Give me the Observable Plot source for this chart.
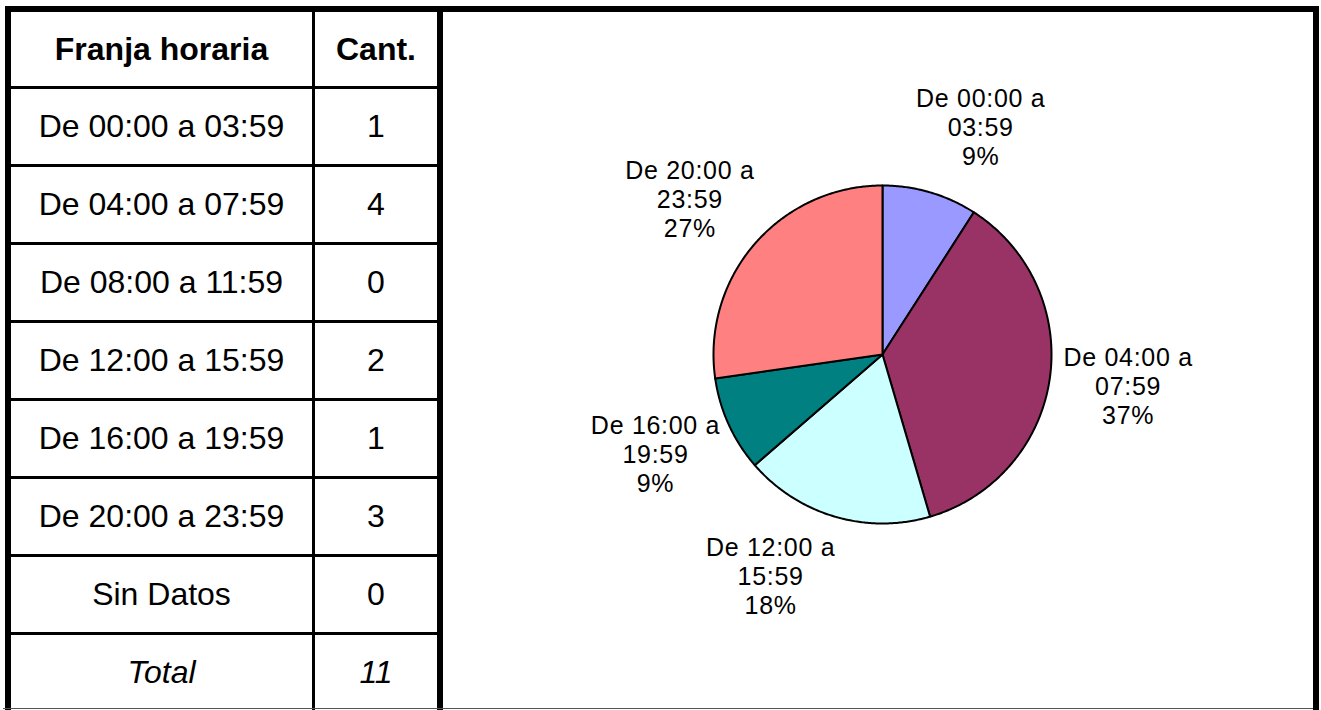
<!DOCTYPE html>
<html>
<head>
<meta charset="utf-8">
<script src="https://cdn.jsdelivr.net/npm/d3@7"></script>
<script src="https://cdn.jsdelivr.net/npm/@observablehq/plot@0.6"></script>
<style>
  html, body { margin: 0; padding: 0; background: #fff; }
  #page { position: relative; width: 1321px; height: 710px; overflow: hidden;
          font-family: "Liberation Sans", Arial, sans-serif; color: #000; }
  #table { position: absolute; left: 5px; top: 6px; padding: 6px 6px 0 6px; background: #000;
           display: grid; grid-template-columns: 301px 122px;
           grid-template-rows: 74px repeat(8, 75px); gap: 3px; }
  .cell { background: #fff; display: flex; align-items: center; justify-content: center;
          font-size: 32px; }
  .head { font-weight: bold; }
  .tot { font-style: italic; }
  #panel { position: absolute; left: 443px; top: 6px; width: 870px; height: 698px;
           border-top: 6px solid #000; border-right: 6px solid #000; background: #fff; }
  #panel svg text { letter-spacing: 0.7px; }
  #bottomline { position: absolute; left: 3px; top: 708px; width: 1310px; height: 1px;
                background: #555; z-index: 5; }
</style>
</head>
<body>
<div id="page">
  <div id="table"></div>
  <div id="panel"></div>
  <div id="bottomline"></div>
</div>
<script>
// ---- data ----
const headers = ["Franja horaria", "Cant."];
const slots = ["De 00:00 a 03:59", "De 04:00 a 07:59", "De 08:00 a 11:59", "De 12:00 a 15:59",
               "De 16:00 a 19:59", "De 20:00 a 23:59", "Sin Datos"];
const counts = [1, 4, 0, 2, 1, 3, 0];
const totalLabel = "Total";
const sliceColors = ["#9999FF", "#993366", "#FFFFCC", "#CCFFFF", "#008080", "#FF8080", "#C0C0C0"];
// small label placement nudges (degrees, clockwise) as in the original chart
const labelNudgeDeg = [7, -1, 0, 10.5, 1, -2, 0];

const total = d3.sum(counts);

// percentages rounded with largest remainder so that they add to 100
const raw = counts.map(c => c / total * 100);
const pcts = raw.map(Math.floor);
let rest = 100 - d3.sum(pcts);
const order = d3.range(raw.length).filter(i => counts[i] > 0)
  .sort((a, b) => (raw[b] - pcts[b]) - (raw[a] - pcts[a]));
for (let k = 0; k < rest && k < order.length; k++) pcts[order[k]] += 1;

// ---- table ----
const tbl = document.getElementById("table");
function cell(text, cls) {
  const d = document.createElement("div");
  d.className = "cell" + (cls ? " " + cls : "");
  d.textContent = text;
  tbl.appendChild(d);
}
headers.forEach(h => cell(h, "head"));
slots.forEach((s, i) => { cell(s); cell(String(counts[i])); });
cell(totalLabel, "tot");
cell(String(total), "tot");

// ---- pie ----
const W = 870, H = 698, CX = 439, CY = 342, R = 169, LR = 1.465;
const pieData = slots.map((slot, i) => ({slot, count: counts[i], pct: pcts[i], nudge: labelNudgeDeg[i]}))
  .filter(d => d.count > 0);
const arcs = d3.pie().value(d => d.count).sort(null)(pieData);

const outline = arcs.flatMap(a => {
  const n = Math.max(2, Math.ceil((a.endAngle - a.startAngle) / (Math.PI / 360)));
  const pts = [{slot: a.data.slot, x: 0, y: 0}];
  for (let k = 0; k <= n; k++) {
    const t = a.startAngle + (a.endAngle - a.startAngle) * k / n;
    pts.push({slot: a.data.slot, x: Math.sin(t), y: Math.cos(t)});
  }
  pts.push({slot: a.data.slot, x: 0, y: 0});
  return pts;
});

const labels = arcs.map(a => {
  const t = (a.startAngle + a.endAngle) / 2 + a.data.nudge * Math.PI / 180;
  return {x: LR * Math.sin(t), y: LR * Math.cos(t),
          text: a.data.slot.replace(" a ", " a\n") + "\n" + a.data.pct + "%"};
});

const chart = Plot.plot({
  width: W, height: H, margin: 0,
  x: {domain: [-CX / R, (W - CX) / R], axis: null},
  y: {domain: [-(H - CY) / R, CY / R], axis: null},
  color: {domain: slots, range: sliceColors},
  style: {fontFamily: '"Liberation Sans", Arial, sans-serif', background: "transparent", overflow: "visible"},
  marks: [
    Plot.line(outline, {x: "x", y: "y", z: "slot", fill: "slot", stroke: "#000",
                        strokeWidth: 2, strokeLinejoin: "round", curve: "linear"}),
    Plot.text(labels, {x: "x", y: "y", text: "text", fontSize: 25, lineHeight: 1.16,
                       textAnchor: "middle", lineAnchor: "middle", fill: "#000"})
  ]
});
document.getElementById("panel").appendChild(chart);
</script>
</body>
</html>
